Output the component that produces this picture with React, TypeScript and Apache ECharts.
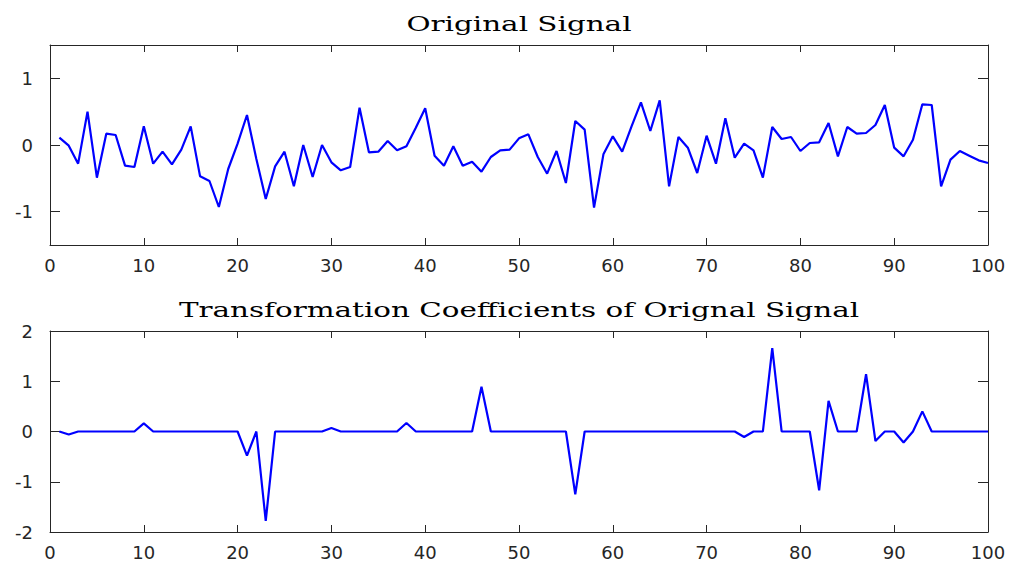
import React, { useEffect, useRef } from "react";
import * as echarts from "echarts";

const signal: number[] = [
  0.11, -0.01, -0.28, 0.5, -0.49, 0.17, 0.15, -0.31, -0.33, 0.28,
  -0.28, -0.1, -0.29, -0.07, 0.28, -0.47, -0.54, -0.93, -0.36, 0.02,
  0.45, -0.21, -0.81, -0.32, -0.1, -0.62, 0.0, -0.48, 0.0, -0.26,
  -0.38, -0.33, 0.56, -0.11, -0.1, 0.06, -0.08, -0.02, 0.26, 0.55,
  -0.16, -0.31, -0.02, -0.31, -0.25, -0.4, -0.18, -0.08, -0.07, 0.1,
  0.16, -0.18, -0.43, -0.09, -0.57, 0.36, 0.23, -0.94, -0.14, 0.13,
  -0.1, 0.28, 0.64, 0.21, 0.67, -0.62, 0.12, -0.04, -0.42, 0.14,
  -0.28, 0.4, -0.19, 0.02, -0.08, -0.49, 0.27, 0.09, 0.12, -0.09,
  0.03, 0.04, 0.33, -0.17, 0.27, 0.17, 0.18, 0.3, 0.6, -0.04,
  -0.17, 0.08, 0.61, 0.6, -0.62, -0.22, -0.09, -0.16, -0.23, -0.27,
];

const coefficients: number[] = [
  0, -0.06, 0, 0, 0, 0, 0, 0, 0, 0.16,
  0, 0, 0, 0, 0, 0, 0, 0, 0, 0,
  -0.48, 0, -1.78, 0, 0, 0, 0, 0, 0, 0.07,
  0, 0, 0, 0, 0, 0, 0, 0.17, 0, 0,
  0, 0, 0, 0, 0, 0.89, 0, 0, 0, 0,
  0, 0, 0, 0, 0, -1.25, 0, 0, 0, 0,
  0, 0, 0, 0, 0, 0, 0, 0, 0, 0,
  0, 0, 0, -0.11, 0, 0, 1.66, 0, 0, 0,
  0, -1.17, 0.61, 0, 0, 0, 1.14, -0.19, 0, 0,
  -0.22, 0, 0.4, 0, 0, 0, 0, 0, 0, 0,
];

const titles = ["Original Signal", "Transformation Coefficients of Orignal Signal"];
const xTicks = [0, 10, 20, 30, 40, 50, 60, 70, 80, 90, 100];
const y1Ticks = [-1, 0, 1];
const y2Ticks = [-2, -1, 0, 1, 2];

const AXIS_COLOR = "#262626";
const LABEL_FONT = { fontFamily: "DejaVu Sans", fontSize: 18, color: AXIS_COLOR };

export default function App() {
  const ref = useRef<HTMLDivElement>(null);
  useEffect(() => {
    if (!ref.current) return;
    const chart = echarts.init(ref.current, null, { renderer: "svg" });

    const toPairs = (arr: number[]) => arr.map((v, i) => [i + 1, v]);

    const mkX = (gridIndex: number, top: boolean) => ({
      type: "value",
      gridIndex,
      position: top ? "top" : "bottom",
      min: 0,
      max: 100,
      interval: 10,
      axisLine: { show: true, onZero: false, lineStyle: { color: AXIS_COLOR, width: 1 } },
      axisTick: { show: true, inside: true, length: 7, lineStyle: { color: AXIS_COLOR } },
      axisLabel: top
        ? { show: false }
        : { show: true, margin: 11, customValues: xTicks, ...LABEL_FONT },
      splitLine: { show: false },
    });

    const mkY = (gridIndex: number, right: boolean, min: number, max: number, ticks: number[]) => ({
      type: "value",
      gridIndex,
      position: right ? "right" : "left",
      min,
      max,
      axisLine: { show: true, onZero: false, lineStyle: { color: AXIS_COLOR, width: 1 } },
      axisTick: { show: true, inside: true, length: 10, customValues: ticks, lineStyle: { color: AXIS_COLOR } },
      axisLabel: right
        ? { show: false, customValues: ticks }
        : { show: true, margin: 17, customValues: ticks, ...LABEL_FONT },
      splitLine: { show: false },
    });

    const titleText = (text: string, y: number) => ({
      type: "text",
      x: 519,
      y,
      scaleX: 1.4,
      style: {
        text,
        fontFamily: "DejaVu Serif",
        fontSize: 21,
        fontWeight: "normal",
        fill: "#000",
        textAlign: "center",
        textVerticalAlign: "middle",
      },
    });

    chart.setOption({
      animation: false,
      backgroundColor: "#ffffff",
      graphic: [titleText(titles[0], 24), titleText(titles[1], 310)],
      grid: [
        { left: 50, top: 45, width: 938, height: 200 },
        { left: 50, top: 331, width: 938, height: 201 },
      ],
      xAxis: [mkX(0, false), mkX(0, true), mkX(1, false), mkX(1, true)],
      yAxis: [
        mkY(0, false, -1.5, 1.5, y1Ticks),
        mkY(0, true, -1.5, 1.5, y1Ticks),
        mkY(1, false, -2, 2, y2Ticks),
        mkY(1, true, -2, 2, y2Ticks),
      ],
      series: [
        {
          type: "line",
          xAxisIndex: 0,
          yAxisIndex: 0,
          data: toPairs(signal),
          showSymbol: false,
          symbol: "none",
          lineStyle: { color: "#0000ff", width: 2.2 },
        },
        {
          type: "line",
          xAxisIndex: 2,
          yAxisIndex: 2,
          data: toPairs(coefficients),
          showSymbol: false,
          symbol: "none",
          lineStyle: { color: "#0000ff", width: 2.2 },
        },
      ],
    });
    return () => chart.dispose();
  }, []);

  return (
    <div
      ref={ref}
      style={{ position: "fixed", left: 0, top: 0, width: 1013, height: 562, background: "#fff" }}
    />
  );
}
